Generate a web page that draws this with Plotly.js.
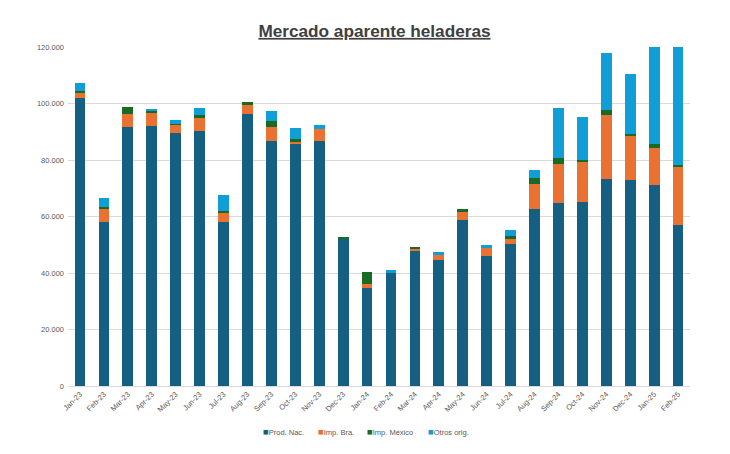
<!DOCTYPE html>
<html>
<head>
<meta charset="utf-8">
<script src="https://cdn.plot.ly/plotly-3.0.1.min.js"></script>
<style>html,body{margin:0;padding:0;background:#fff}#chart{width:730px;height:454px}</style>
</head>
<body>
<div id="chart"></div>
<script>
const months = ["Jan-23","Feb-23","Mar-23","Apr-23","May-23","Jun-23","Jul-23","Aug-23","Sep-23","Oct-23","Nov-23","Dec-23","Jan-24","Feb-24","Mar-24","Apr-24","May-24","Jun-24","Jul-24","Aug-24","Sep-24","Oct-24","Nov-24","Dec-24","Jan-25","Feb-25"];
const prodNac  = [101850,58060,91580,92150,89560,90160,58160,96180,86730,85780,86730,52040,34690,39900,47790,44720,58870,46020,50270,62660,64780,65030,73280,72920,71050,56890];
const impBra   = [1800,4600,4600,4390,2940,4810,3190,3190,4960,600,4250,0,1300,0,800,1550,2720,2720,1770,8960,13700,14270,22760,15470,13200,20740];
const impMex   = [600,800,2480,920,200,950,700,1060,2120,950,0,600,4460,0,600,0,950,0,950,2120,2120,710,1660,710,1310,600];
const otrosOrig= [3000,3000,0,500,1560,2480,5560,0,3650,3890,1420,200,0,1270,0,1170,0,1060,2240,2620,17800,15110,20070,21240,36000,44000];

const names = ["Prod. Nac.","Imp. Bra.","Imp. México","Otros orig."];
const colors = ["#156082","#E97132","#196B24","#0F9ED5"];
const series = [prodNac, impBra, impMex, otrosOrig];

const traces = series.map((s,i)=>({
  type:"bar", x: months, y: s, name: names[i],
  marker:{color: colors[i], line:{width:0}},
  hovertemplate: "%{x}: %{y:,d}<extra>"+names[i]+"</extra>"
}));

// legend drawn as text annotations (compact, like the reference)
const plotL = 68, plotR = 690, plotT = 47, plotB = 386;
const legendLeftPx = [261, 316, 365, 426];
const legendYPx = 432;
const annotations = names.map((n,i)=>({
  xref:"paper", yref:"paper",
  x:(legendLeftPx[i]-plotL)/(plotR-plotL),
  y:(plotB-legendYPx)/(plotB-plotT),
  xanchor:"left", yanchor:"middle", showarrow:false,
  text:"<span style='color:"+colors[i]+";font-size:9.5px'>■</span>"+n,
  font:{size:7.5, color:"#595959", family:"Liberation Sans, Arial, sans-serif"}
}));

const layout = {
  width:730, height:454,
  barmode:"stack", bargap:0.55,
  separators:",.",
  paper_bgcolor:"#fff", plot_bgcolor:"#fff",
  margin:{l:plotL, r:730-plotR, t:plotT, b:454-plotB},
  font:{family:"Liberation Sans, Arial, sans-serif", color:"#595959", size:8},
  title:{text:"<b><u>Mercado aparente heladeras</u></b>", x:0.513, xanchor:"center", y:0.932, yanchor:"middle",
    font:{size:17.2, color:"#404040", family:"Liberation Sans, Arial, sans-serif"}},
  xaxis:{tickangle:-45, tickfont:{size:7.5, color:"#595959"}, showgrid:false, linecolor:"#d9d9d9", showline:true, ticks:"", automargin:false},
  yaxis:{range:[0,120000], dtick:20000, tickformat:",d", gridcolor:"#d9d9d9", gridwidth:1, zeroline:false,
    tickfont:{size:7.5, color:"#595959"}, ticks:"", ticklabelstandoff:3, automargin:false},
  showlegend:false,
  annotations: annotations
};
Plotly.newPlot("chart", traces, layout, {displayModeBar:false, staticPlot:true});
</script>
</body>
</html>
